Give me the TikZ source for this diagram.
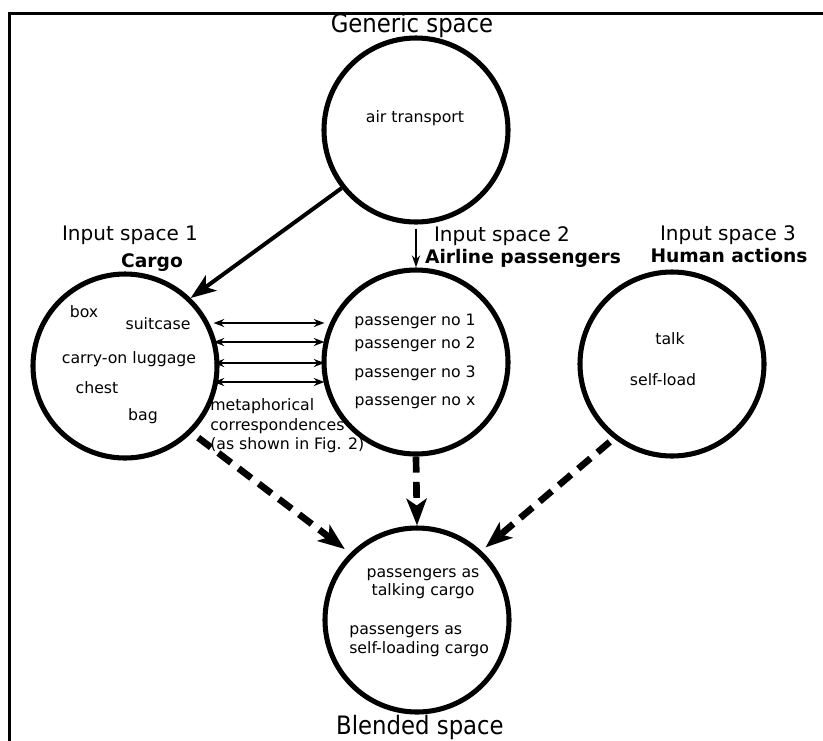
\documentclass[tikz,border=0pt]{standalone}
\usepackage{fontspec}
\setmainfont{DejaVu Sans}
\newfontfamily\titlefont{DejaVu Sans Condensed}
\usetikzlibrary{calc,arrows.meta}
\tikzset{
    spacecircle/.style={circle,draw=black,line width=3.8pt,minimum size=138pt,inner sep=0pt},
    spacetitle/.style={font=\titlefont\fontsize{19}{22}\selectfont,anchor=base,inner sep=0pt},
    inputlabel/.style={font=\fontsize{15}{18}\selectfont,anchor=base,inner sep=0pt},
    inputname/.style={font=\bfseries\fontsize{14}{17}\selectfont,anchor=base,inner sep=0pt},
    item/.style={font=\fontsize{11.8}{14}\selectfont,anchor=base,inner sep=0pt},
    mainarrow/.style={line width=3pt,-{Stealth[length=19pt,width=14pt,inset=5pt]}},
    linkarrow/.style={line width=1.5pt,-{Stealth[length=9pt,width=6pt]}},
    corrarrow/.style={line width=1.5pt,{Stealth[length=8pt,width=6pt]}-{Stealth[length=8pt,width=6pt]}},
    blendarrow/.style={line width=5pt,dash pattern=on 12pt off 7pt,-{Stealth[length=20pt,width=15pt,inset=5pt]}},
    frameline/.style={line width=2.25pt}
}
\begin{document}
\begin{tikzpicture}[x=0.75pt,y=-0.75pt]
		\useasboundingbox (0,0) rectangle (823,740);
		\draw[frameline] (9,760) -- (9,13) -- (840,13);
		% generic space
		\node[spacetitle] (gentitle) at (412,32) {Generic space};
		\node[spacecircle] (gen) at (416,130) {};
		\node[item] (gentext) at (415,122) {air transport};
		% input space 1
		\node[inputlabel] (cargolabel) at (130,240) {Input space 1};
		\node[inputname] (cargoname) at (152,267) {Cargo};
		\node[spacecircle] (cargo) at (125,366) {};
		\node[item] (box) at (84,317) {box};
		\node[item] (suitcase) at (158,329) {suitcase};
		\node[item] (luggage) at (129,363) {carry-on luggage};
		\node[item] (chest) at (97,393) {chest};
		\node[item] (bag) at (143,420) {bag};
		% input space 2
		\node[inputlabel] (airlabel) at (502,241) {Input space 2};
		\node[inputname] (airname) at (523,263) {Airline passengers};
		\node[spacecircle] (air) at (416,362) {};
		\node[item] (pone) at (415,325) {passenger no 1};
		\node[item] (ptwo) at (415,348) {passenger no 2};
		\node[item] (pthree) at (415,377) {passenger no 3};
		\node[item] (px) at (415,405) {passenger no x};
		% input space 3
		\node[inputlabel] (humanlabel) at (728,240) {Input space 3};
		\node[inputname] (humanname) at (729,262) {Human actions};
		\node[spacecircle] (human) at (672,364) {};
		\node[item] (talk) at (670,344) {talk};
		\node[item] (selfload) at (663,385) {self-load};
		% blended space
		\node[spacecircle] (blend) at (417,620) {};
		\node[item] (btone) at (423,577) {passengers as};
		\node[item] (btwo) at (423,595) {talking cargo};
		\node[item,anchor=base west] (bthree) at (349,634) {passengers as};
		\node[item,anchor=base west] (bfour) at (349,653) {self-loading cargo};
		\node[spacetitle] (blendtitle) at (420,734) {Blended space};
		% correspondences
		\foreach \dy in {-43,-24,-3,16}
			\draw[corrarrow] ($(cargo.east)+(-6,\dy)$) -- ($(air.west)+(3,\dy+4)$);
		\node[item,anchor=base west] (metaone) at (210,410) {metaphorical};
		\node[item,anchor=base west] (metatwo) at (210,430) {correspondences};
		\node[item,anchor=base west] (metathree) at (210,449) {(as shown in Fig. 2)};
		% projections
		\draw[mainarrow] (gen.218) -- (cargo.46);
		\draw[linkarrow] ([yshift=-3pt]gen.south) -- (air.north);
		\draw[blendarrow,shorten <=6pt,shorten >=5pt] (cargo.-45) -- (blend.135);
		\draw[blendarrow] (air.south) -- (blend.north);
		\draw[blendarrow,shorten <=4pt,shorten >=4pt] (human.232) -- (blend.47);
\end{tikzpicture}
\end{document}
